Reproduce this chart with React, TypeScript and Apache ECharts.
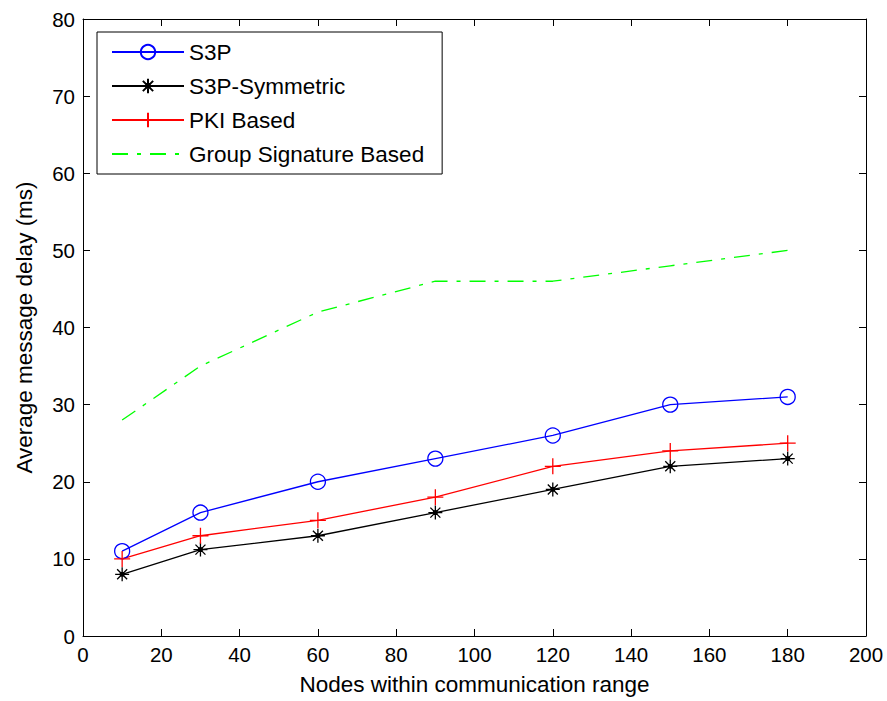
import React, { useEffect, useRef } from "react";
import * as echarts from "echarts";

const nodes = [10, 30, 60, 90, 120, 150, 180];
const s3p = [11, 16, 20, 23, 26, 30, 31];
const s3pSymmetric = [8, 11.2, 13, 16, 19, 22, 23];
const pkiBased = [10, 13, 15, 18, 22, 24, 25];
const groupSignature = [28, 35, 42, 46, 46, 48, 50];
const seriesNames = ["S3P", "S3P-Symmetric", "PKI Based", "Group Signature Based"];
const xTitle = "Nodes within communication range";
const yTitle = "Average message delay (ms)";

const FONT = "'Liberation Sans', Arial, sans-serif";

const pair = (ys: number[]) => nodes.map((x, i) => [x, ys[i]]);

export default function App() {
  const ref = useRef<HTMLDivElement>(null);
  useEffect(() => {
    if (!ref.current) return;
    const chart = echarts.init(ref.current, undefined, { renderer: "svg" });
    const axisLine = { show: true, onZero: false, lineStyle: { color: "#000", width: 1 } };
    const tick = { show: true, inside: true, length: 7, lineStyle: { color: "#000", width: 1 } };
    chart.setOption({
      animation: false,
      backgroundColor: "#fff",
      textStyle: { fontFamily: FONT },
      grid: { left: 83, right: 21, top: 19, bottom: 64.5, containLabel: false },
      legend: {
        orient: "vertical",
        left: 97,
        top: 32,
        backgroundColor: "#fff",
        borderColor: "#000",
        borderWidth: 1,
        padding: [8, 18, 8, 14],
        itemWidth: 72,
        itemHeight: 18,
        itemGap: 10,
        itemTextGap: 8,
        textStyle: { fontFamily: FONT, fontSize: 22.5, color: "#000", lineHeight: 24 },
        data: [
          seriesNames[0],
          seriesNames[1],
          seriesNames[2],
          { name: seriesNames[3], itemStyle: { opacity: 0 } },
        ],
      },
      xAxis: [
        {
          type: "value",
          min: 0,
          max: 200,
          interval: 20,
          name: xTitle,
          nameLocation: "middle",
          nameGap: 37,
          nameTextStyle: { fontFamily: FONT, fontSize: 22.5, color: "#000" },
          axisLine,
          axisTick: tick,
          axisLabel: { fontFamily: FONT, fontSize: 20.5, color: "#000", margin: 8 },
          splitLine: { show: false },
        },
        {
          type: "value",
          position: "top",
          min: 0,
          max: 200,
          interval: 20,
          axisLine,
          axisTick: tick,
          axisLabel: { show: false },
          splitLine: { show: false },
        },
      ],
      yAxis: [
        {
          type: "value",
          min: 0,
          max: 80,
          interval: 10,
          name: yTitle,
          nameLocation: "middle",
          nameGap: 47,
          nameTextStyle: { fontFamily: FONT, fontSize: 22.5, color: "#000" },
          axisLine,
          axisTick: tick,
          axisLabel: { fontFamily: FONT, fontSize: 20.5, color: "#000", margin: 8 },
          splitLine: { show: false },
        },
        {
          type: "value",
          position: "right",
          min: 0,
          max: 80,
          interval: 10,
          axisLine,
          axisTick: tick,
          axisLabel: { show: false },
          splitLine: { show: false },
        },
      ],
      series: [
        {
          name: seriesNames[0],
          type: "line",
          data: pair(s3p),
          symbol: "circle",
          symbolSize: 15,
          itemStyle: { color: "rgba(0,0,0,0)", borderColor: "#0000ff", borderWidth: 1.3 },
          lineStyle: { color: "#0000ff", width: 1.3 },
        },
        {
          name: seriesNames[1],
          type: "line",
          data: pair(s3pSymmetric),
          symbol:
            "path://M7,0L7,14M0,7L14,7M2,2L12,12M2,12L12,2M5,7a2,2 0 1,0 4,0a2,2 0 1,0 -4,0Z",
          symbolSize: 14,
          symbolKeepAspect: true,
          itemStyle: { color: "#000", borderColor: "#000", borderWidth: 1.3 },
          lineStyle: { color: "#000", width: 1.3 },
        },
        {
          name: seriesNames[2],
          type: "line",
          data: pair(pkiBased),
          symbol: "path://M8,0L8,16M0,8L16,8",
          symbolSize: 16,
          symbolKeepAspect: true,
          itemStyle: { color: "#ff0000", borderColor: "#ff0000", borderWidth: 1.3 },
          lineStyle: { color: "#ff0000", width: 1.3 },
        },
        {
          name: seriesNames[3],
          type: "line",
          data: pair(groupSignature),
          showSymbol: false,
          symbol: "none",
          itemStyle: { color: "#00ff00" },
          lineStyle: { color: "#00ff00", width: 1.3, type: [16, 9, 4, 9] },
        },
      ],
    });
    return () => chart.dispose();
  }, []);
  return (
    <div
      ref={ref}
      style={{ position: "absolute", left: 0, top: 0, width: 887, height: 701 }}
    />
  );
}
